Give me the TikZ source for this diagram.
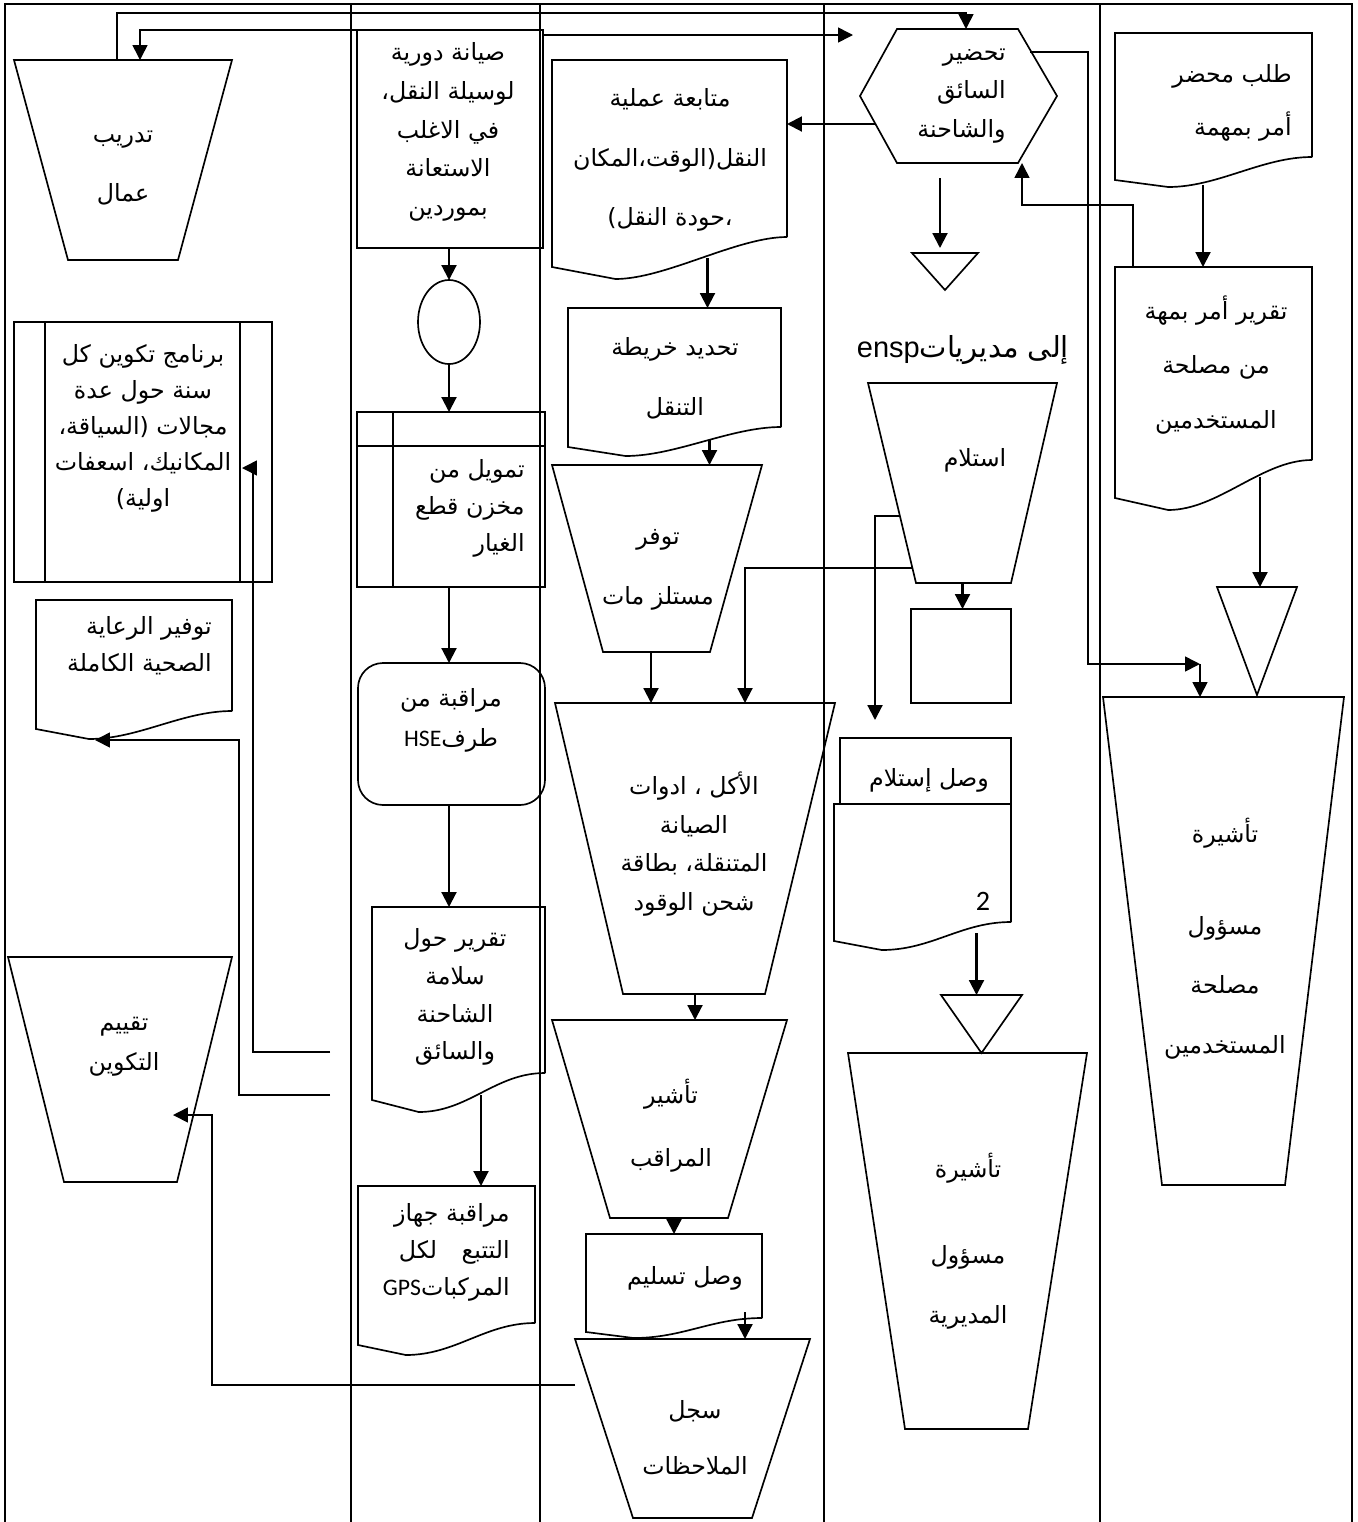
\documentclass[tikz,border=0pt]{standalone}
\usepackage{fontspec}
\setmainfont{Liberation Sans}
\newfontfamily\arabicfont[Script=Arabic]{DejaVu Sans}
\newfontfamily\calfont{Carlito}
\newfontfamily\latinfont{Liberation Sans}
\TeXXeTstate=1
\usetikzlibrary{arrows.meta,calc,shapes.geometric}
\newcommand\ar[1]{\beginR#1\endR}
\newcommand\arsize[1]{\arabicfont\fontsize{13.5}{#1}\selectfont}
\tikzset{
  shp/.style={line width=0.95pt},
  lane/.style={line width=1.3pt},
  flow/.style={->,line width=1.2pt},
  link/.style={->,line width=0.9pt},
  sz/.style 2 args={minimum width=#1*0.02cm,minimum height=#2*0.02cm,inner sep=0pt,outer sep=0pt},
  txt/.style={font=\arsize{#1},align=center,inner sep=0pt},
  txt/.default=22
}
% outlines drawn round empty named nodes
\newcommand\trapz[3]{\draw[shp] (#1.north west) -- (#1.north east) -- ($(#1.south east)+(-#3,0)$) -- ($(#1.south west)+(#2,0)$) -- cycle;}
\newcommand\docz[3]{\draw[shp] (#1.south east) -- (#1.north east) -- (#1.north west) -- ($(#1.south west)+(0,#2)$) -- ($(#1.south west)!0.27!(#1.south east)+(0,#2+#3)$) .. controls +(50,0) and +(-50,0) .. (#1.south east);}
\newcommand\trid[1]{\draw[shp] (#1.north west) -- (#1.north east) -- (#1.south) -- cycle;}

\begin{document}
\begin{tikzpicture}[x=0.02cm,y=-0.02cm,>={Triangle[length=8.5pt,width=8.5pt]}]
\useasboundingbox (0,0) rectangle (1358,1522);

% swimlanes
\draw[lane] (5,1522) -- (5,4) -- (1352,4) -- (1352,1522);
\foreach \lx in {351,540,824,1100} \draw[lane] (\lx,4) -- (\lx,1522);

% lane 1
\node[sz={218}{200}] (train) at (123,160) {};
\trapz{train}{54}{54}
\node[txt=34] (train-t) at (123,168) {\ar{تدريب}\\\ar{عمال}};

\node[sz={258}{260}] (prog) at (143,452) {};
\draw[shp] (prog.north west) rectangle (prog.south east)
  ($(prog.north west)+(31,0)$) -- ($(prog.south west)+(31,0)$)
  ($(prog.north east)+(-32,0)$) -- ($(prog.south east)+(-32,0)$);
\node[txt=20.5] (prog-t) at (143,428) {\ar{برنامج تكوين كل}\\\ar{سنة حول عدة}\\\ar{مجالات (السياقة،}\\\ar{المكانيك، اسعفات}\\\ar{اولية)}};

\node[sz={196}{111}] (care) at (134,655.5) {};
\docz{care}{18}{10}
\node[txt=21,align=right,anchor=east] (care-t) at (212,646) {\ar{توفير الرعاية}\\\ar{الصحية الكاملة}};

\node[sz={224}{225}] (eval) at (120,1069.5) {};
\trapz{eval}{56}{55}
\node[txt=22.7] (eval-t) at (124,1047) {\ar{تقييم}\\\ar{التكوين}};

% lane 2
\node[sz={186}{218},draw,shp] (maint) at (450,139) {};
\node[txt=22] (maint-t) at (448,132) {\ar{صيانة دورية}\\\ar{لوسيلة النقل،}\\\ar{في الاغلب}\\\ar{الاستعانة}\\\ar{بموردين}};

\node[draw,shp,ellipse,sz={62}{84}] (conn) at (449,322) {};

\node[sz={188}{175}] (fund) at (451,499.5) {};
\draw[shp] (fund.north west) rectangle (fund.south east)
  ($(fund.north west)+(36,0)$) -- ($(fund.south west)+(36,0)$)
  ($(fund.north west)+(0,34)$) -- ($(fund.north east)+(0,34)$);
\node[txt=21,align=right,anchor=east] (fund-t) at (525,508) {\ar{تمويل من}\\\ar{مخزن قطع}\\\ar{الغيار}};

\node[draw,shp,rounded corners=0.5cm,sz={187}{142}] (hse) at (451.5,734) {};
\node[txt=22.7] (hse-t) at (451,720) {\ar{مراقبة من}\\\ar{طرف{\calfont HSE}}};

\node[sz={173}{166}] (safe) at (458.5,990) {};
\docz{safe}{27}{12}
\node[txt=21.5] (safe-t) at (455,997) {\ar{تقرير حول}\\\ar{سلامة}\\\ar{الشاحنة}\\\ar{والسائق}};

\node[sz={177}{137}] (gps) at (446.5,1254.5) {};
\docz{gps}{22}{10}
\node[txt=21,align=right,anchor=east] (gps-t) at (510,1252) {\ar{مراقبة جهاز}\\\ar{التتبع\hspace{14pt}لكل}\\\ar{المركبات{\calfont GPS}}};

% lane 3
\node[sz={235}{177}] (follow) at (669.5,148.5) {};
\docz{follow}{30}{12}
\node[txt=34] (follow-t) at (670,160) {\ar{متابعة عملية}\\\ar{النقل(الوقت،المكان}\\\ar{،حودة النقل)}};

\node[sz={213}{119}] (map) at (674.5,367.5) {};
\docz{map}{20}{9}
\node[txt=34] (map-t) at (675,378) {\ar{تحديد خريطة}\\\ar{التنقل}};

\node[sz={210}{187}] (supply) at (657,558.5) {};
\trapz{supply}{51}{52}
\node[txt=34] (supply-t) at (658,570) {\ar{توفر}\\\ar{مستلز مات}};

\node[sz={280}{291}] (food) at (695,848.5) {};
\trapz{food}{68}{70}
\node[txt=22] (food-t) at (694,844) {\ar{الأكل ، ادوات}\\\ar{الصيانة}\\\ar{المتنقلة، بطاقة}\\\ar{شحن الوقود}};

\node[sz={235}{198}] (visa) at (669.5,1119) {};
\trapz{visa}{58}{59}
\node[txt=36] (visa-t) at (671,1126) {\ar{تأشير}\\\ar{المراقب}};

\node[sz={176}{84}] (deliv) at (674,1276) {};
\docz{deliv}{14}{6}
\node[txt] (deliv-t) at (685,1278) {\ar{وصل تسليم}};

\node[sz={235}{179}] (notes) at (692.5,1428.5) {};
\trapz{notes}{58}{58}
\node[txt=32] (notes-t) at (695,1438) {\ar{سجل}\\\ar{الملاحظات}};

% lane 4
\node[sz={197}{134}] (prep) at (958.5,96) {};
\draw[shp] ($(prep.north west)+(37,0)$) -- ($(prep.north east)+(-39,0)$) -- (prep.east)
  -- ($(prep.south east)+(-39,0)$) -- ($(prep.south west)+(37,0)$) -- (prep.west) -- cycle;
\node[txt=22,align=right,anchor=east] (prep-t) at (1006,96) {\ar{تحضير}\\\ar{السائق}\\\ar{والشاحنة}};

\node[sz={66}{37}] (tri1) at (945,271.5) {};
\trid{tri1}
\node[font=\arabicfont\fontsize{16.5}{18}\selectfont,inner sep=0pt] (dest) at (963,350) {{\latinfont ensp}\ar{إلى مديريات}};

\node[sz={189}{200}] (recv) at (962.5,483) {};
\trapz{recv}{48}{46}
\node[txt] (recv-t) at (975,460) {\ar{استلام}};

\node[draw,shp,sz={100}{94}] (blank) at (961,656) {};

\node[draw,shp,sz={171}{66}] (rcpthead) at (925.5,771) {};
\node[txt] (rcpthead-t) at (929,780) {\ar{وصل إستلام}};
\node[sz={177}{118}] (rcptdoc) at (922.5,863) {};
\docz{rcptdoc}{19}{9}
\node[font=\calfont\fontsize{16}{18}\selectfont,inner sep=0pt] (rcpt-n) at (983,901) {2};

\node[sz={81}{58}] (tri2) at (981.5,1024) {};
\trid{tri2}

\node[sz={239}{376}] (dirvisa) at (967.5,1241) {};
\trapz{dirvisa}{57}{59}
\node[txt=34] (dirvisa-t) at (968,1241) {\ar{تأشيرة}\\[15pt]\ar{مسؤول}\\\ar{المديرية}};

% lane 5
\node[sz={197}{124}] (order) at (1213.5,95) {};
\docz{order}{23}{7}
\node[txt=30,align=right,anchor=east] (order-t) at (1292,103) {\ar{طلب محضر}\\\ar{أمر بمهمة}};

\node[sz={197}{193}] (report) at (1213.5,363.5) {};
\docz{report}{38}{12}
\node[txt=31] (report-t) at (1216,365) {\ar{تقرير أمر بمهة}\\\ar{من مصلحة}\\\ar{المستخدمين}};

\node[sz={80}{108}] (tri3) at (1257,641) {};
\trid{tri3}

\node[sz={241}{488}] (svcvisa) at (1223.5,941) {};
\trapz{svcvisa}{59}{59}
\node[txt=34] (svcvisa-t) at (1225,939) {\ar{تأشيرة}\\[18pt]\ar{مسؤول}\\\ar{مصلحة}\\\ar{المستخدمين}};

% connectors
\draw[link] ($(train.north)+(-6,0)$) |- ($(prep.north)+(7.5,-16)$) -- ($(prep.north)+(7.5,0)$);
\draw[link] (maint.north west) -| ($(train.north)+(17,0)$);
\coordinate (c1) at (853,35);
\draw[link] ($(maint.north east)+(0,5)$) -- (c1);
\draw[flow] (conn.north |- maint.south) -- (conn.north);
\draw[flow] (conn.south) -- (conn.south |- fund.north);
\draw[flow] (conn.south |- fund.south) -- (conn.south |- hse.north);
\draw[flow] (conn.south |- hse.south) -- (conn.south |- safe.north);
\coordinate (h1) at ($(safe.south)+(22.5,22)$);
\draw[flow] (h1) -- (h1 |- gps.north);
\coordinate (s1) at (330,1052);
\coordinate (p1) at ($(prog.east)+(-30,16)$);
\draw[link] (s1) -| ($(p1)+(11,0)$) -- (p1);
\coordinate (s2) at (330,1095);
\coordinate (c2) at ($(care.south west)+(59,29)$);
\draw[link] (s2) -| ($(c2)+(144,0)$) -- (c2);
\coordinate (c3) at ($(eval.east)+(-59,45.5)$);
\draw[link] ($(notes.north west)+(0,46)$) -| ($(c3)+(39,0)$) -- (c3);

\coordinate (q1) at ($(prep.west)+(16,28)$);
\draw[flow] (q1) -- (q1 -| follow.east);
\coordinate (f1) at ($(follow.south)+(38,21)$);
\draw[flow] (f1) -- (f1 |- map.north);
\coordinate (m1) at ($(map.south)+(35,13)$);
\draw[flow] (m1) -- (m1 |- supply.north);
\draw[flow] ($(supply.south)+(-6,0)$) -- ($(supply.south |- food.north)+(-6,0)$);
\coordinate (r1) at ($(recv.south west)+(44,-15)$);
\draw[flow] (r1) -| ($(food.north)+(50,0)$);
\coordinate (r2) at ($(recv.south west)+(32,-67)$);
\draw[flow] (r2) -| ($(rcpthead.north)+(-50.5,-18)$);
\draw[flow] (recv.south) -- (recv.south |- blank.north);
\coordinate (w1) at ($(rcptdoc.south)+(54,11)$);
\draw[flow] (w1) -- (w1 |- tri2.north);
\draw[flow] (food.south) -- (food.south |- visa.north);
\draw[flow] (deliv.north |- visa.south) -- (deliv.north);
\coordinate (d1) at ($(deliv.south)+(71,-6)$);
\draw[flow] (d1) -- (d1 |- notes.north);

\coordinate (t1) at ($(prep.south)+(-18.5,15)$);
\draw[flow] (t1) -- ($(t1 |- tri1.north)+(0,-5)$);
\coordinate (u1) at ($(prep.north east)+(-27,23)$);
\coordinate (u2) at ($(svcvisa.north)+(-23.5,-33)$);
\draw[link] (u1) -- ++(58,0) |- (u2);
\draw[link] (u2) -- (u2 |- svcvisa.north);
\coordinate (o1) at ($(order.south)+(-10.5,28)$);
\draw[flow] (o1) -- (o1 |- report.north);
\coordinate (v1) at ($(report.north west)+(18,0)$);
\draw[link] (v1) |- ($(prep.south east)+(-35,42)$) -- ($(prep.south east)+(-35,0)$);
\coordinate (x1) at ($(report.south)+(46.5,17)$);
\draw[flow] (x1) -- (x1 |- tri3.north);
\end{tikzpicture}
\end{document}
